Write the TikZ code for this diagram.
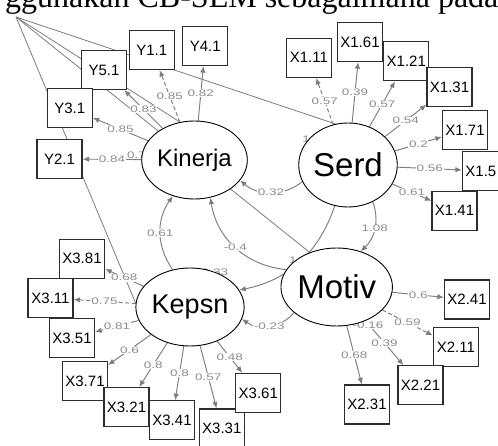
\documentclass[tikz,border=0pt]{standalone}
\usepackage{fontspec}
\setmainfont{Liberation Serif}
\setsansfont{Liberation Sans}
\usetikzlibrary{shapes.geometric,arrows.meta,backgrounds}
\definecolor{edgegray}{RGB}{125,125,125}
\definecolor{labelgray}{RGB}{140,140,140}
\definecolor{boxline}{RGB}{45,45,45}
\tikzset{
  >={Latex[length=6.5pt,width=5.5pt]},
}
\tikzstyle{latent}=[ellipse,draw,line width=0.9pt,fill=white,minimum width=88pt,minimum height=78pt,inner sep=0pt]
\tikzstyle{manifest}=[rectangle,draw=boxline,line width=1.2pt,fill=white,minimum width=45pt,minimum height=39pt,inner sep=0pt,font=\sffamily\fontsize{15}{15}\selectfont]
\tikzstyle{load}=[edgegray,line width=0.95pt,->]
\tikzstyle{dashload}=[load,dash pattern=on 4pt off 2.5pt]
\tikzstyle{hub}=[edgegray,line width=0.8pt]
\tikzstyle{lbl}=[fill=white,inner sep=0.6pt,text=labelgray,font=\sffamily\fontsize{9.5}{10}\selectfont]
\newcommand{\widen}[1]{\scalebox{1.42}[1]{#1}}

\begin{document}
\begin{tikzpicture}[x=1pt,y=1pt]
  \useasboundingbox (0,0) rectangle (498,445);
  \node[anchor=base west,inner sep=0pt,font=\fontsize{32}{32}\selectfont] (caption) at (5,437.5) {ggunakan CB-SEM sebagaimana pada};

  % latent variables
  \node[latent,font=\sffamily\fontsize{24}{24}\selectfont] (Kinerja) at (194.5,285) {Kinerja};
  \node[latent,minimum height=84pt,font=\sffamily\fontsize{33}{33}\selectfont] (Serd) at (348,280) {Serd};
  \node[latent,font=\sffamily\fontsize{33}{33}\selectfont] (Motiv) at (336.7,158) {Motiv};
  \node[latent,font=\sffamily\fontsize{27}{27}\selectfont] (Kepsn) at (190,138) {Kepsn};

  % indicators
  \node[manifest] (Y11) at (151.8,395) {Y1.1};
  \node[manifest] (Y41) at (205.3,399) {Y4.1};
  \node[manifest] (Y51) at (104,375) {Y5.1};
  \node[manifest] (Y31) at (69.7,336.7) {Y3.1};
  \node[manifest] (Y21) at (59.5,286) {Y2.1};

  \node[manifest] (X111) at (308.8,387.2) {X1.11};
  \node[manifest] (X161) at (360,403) {X1.61};
  \node[manifest] (X121) at (406.3,383.8) {X1.21};
  \node[manifest] (X131) at (449.5,358) {X1.31};
  \node[manifest] (X171) at (465,315) {X1.71};
  \node[manifest] (X15) at (485,274) {X1.5\phantom{1}};
  \node[manifest] (X141) at (454.5,234.3) {X1.41};

  \node[manifest] (X241) at (467,145.5) {X2.41};
  \node[manifest] (X211) at (455.8,98) {X2.11};
  \node[manifest] (X221) at (420.5,59.7) {X2.21};
  \node[manifest] (X231) at (367,40.5) {X2.31};

  \node[manifest] (X381) at (82,186.3) {X3.81};
  \node[manifest] (X311) at (50.5,147) {X3.11};
  \node[manifest] (X351) at (72,107) {X3.51};
  \node[manifest] (X371) at (85,63.7) {X3.71};
  \node[manifest] (X321) at (126.5,38) {X3.21};
  \node[manifest] (X341) at (172,24.7) {X3.41};
  \node[manifest] (X331) at (221.8,16.5) {X3.31};
  \node[manifest] (X361) at (258.3,52) {X3.61};

  \begin{scope}[on background layer]
    % lines from the corner
    \coordinate (hub) at (16,428);
    \draw[hub] (hub) -- (Serd.107);
    \draw[hub] (hub) -- (Kinerja.111);
    \draw[hub] (hub) -- (Motiv.128);
    \draw[hub] (hub) -- (Kepsn.176);

    % loadings
    \draw[dashload] (Kinerja) -- node[lbl]{\widen{0.85}} (Y11);
    \draw[load] (Kinerja) -- node[lbl]{\widen{0.82}} (Y41);
    \draw[load] (Kinerja) -- node[lbl]{\widen{0.83}} (Y51);
    \draw[load] (Kinerja) -- node[lbl]{\widen{0.85}} (Y31);
    \draw[load] (Kinerja) -- node[lbl]{\widen{0.84}} (Y21);

    \draw[dashload] (Serd) -- node[lbl]{\widen{0.57}} (X111);
    \draw[load] (Serd) -- node[lbl]{\widen{0.39}} (X161);
    \draw[load] (Serd) -- node[lbl]{\widen{0.57}} (X121);
    \draw[load] (Serd) -- node[lbl]{\widen{0.54}} (X131);
    \draw[load] (Serd) -- node[lbl]{\widen{0.2}} (X171);
    \draw[load] (Serd) -- node[lbl]{\widen{0.56}} (X15);
    \draw[load] (Serd) -- node[lbl]{\widen{0.61}} (X141);

    \draw[load] (Motiv) -- node[lbl]{\widen{0.6}} (X241);
    \draw[dashload] (Motiv) -- node[lbl]{\widen{0.59}} (X211);
    \draw[load] (Motiv) -- node[lbl]{\widen{0.39}} (X221);
    \draw[load] (Motiv) -- node[lbl]{\widen{0.68}} (X231);

    \draw[load] (Kepsn) -- node[lbl]{\widen{0.68}} (X381);
    \draw[dashload] (Kepsn) -- node[lbl]{\widen{0.75}} (X311);
    \draw[load] (Kepsn) -- node[lbl]{\widen{0.81}} (X351);
    \draw[load] (Kepsn) -- node[lbl]{\widen{0.6}} (X371);
    \draw[load] (Kepsn) -- node[lbl]{\widen{0.8}} (X321);
    \draw[load] (Kepsn) -- node[lbl]{\widen{0.8}} (X341);
    \draw[load] (Kepsn) -- node[lbl]{\widen{0.57}} (X331);
    \draw[load] (Kepsn) -- node[lbl]{\widen{0.48}} (X361);

    % paths between latents
    \draw[load] (Serd.200) to[bend left=40] node[lbl]{\widen{0.32}} (Kinerja.-24);
    \draw[load] (Serd.-56) to[bend left=33] node[lbl]{\widen{1.08}} (Motiv.56);
    \draw[load] (Kepsn.115) to[bend left=35] node[lbl]{\widen{0.61}} (Kinerja.239);
    \draw[load] (Motiv.161) to[bend left=38] node[lbl]{\widen{-0.4}} (Kinerja.-67);
    \draw[load] (Serd.252) to[bend left=30] (Kepsn.19.5);
    \draw[load] (Motiv.211) to[bend left=43] node[lbl]{\widen{-0.23}} (Kepsn.-13);

    % labels partly under the latents
    \node[lbl] (l07) at (136.5,290) {\widen{0.7}};
    \node[lbl] (l1) at (306,306) {\widen{1}};
    \node[lbl] (l10) at (298.5,185) {\widen{1.0}};
    \node[lbl] (l033) at (215,173) {\widen{0.33}};
    \node[lbl] (l016) at (368,120) {\widen{-0.16}};
  \end{scope}
\end{tikzpicture}
\end{document}
